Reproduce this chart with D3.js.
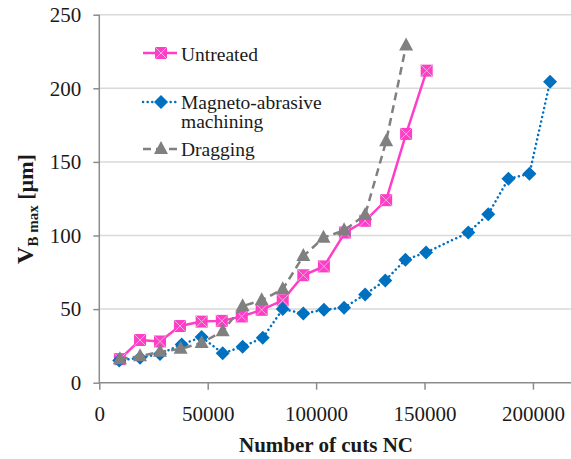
<!DOCTYPE html>
<html>
<head>
<meta charset="utf-8">
<script src="https://cdn.jsdelivr.net/npm/d3@7"></script>
<style>
  body { margin: 0; background: #fff; }
  svg { display: block; }
  text { font-family: "Liberation Serif", "Times New Roman", "DejaVu Serif", serif; fill: #1a1a1a; }
</style>
</head>
<body>
<div id="chart"></div>
<script>
// values
var untreatedX = [9500, 18800, 28000, 37200, 47200, 56500, 65700, 74900, 84600, 94100, 103600, 113300, 122600, 132300, 141500, 151000];
var untreatedY = [16, 29, 28, 38.5, 41.5, 42, 45, 49.5, 56, 73, 79, 102, 110, 124, 169, 212];

var magnetoX = [9200, 18800, 28000, 38000, 47200, 56900, 66100, 75400, 84600, 94100, 103600, 112900, 122600, 131900, 141200, 150700, 170200, 179400, 188700, 198400, 207900];
var magnetoY = [15, 17, 19.5, 26, 31, 20, 24.5, 30.5, 50, 47, 49.5, 51, 60, 69.5, 83.5, 88.5, 102, 114.5, 138.5, 142, 204.5];

var draggingX = [9500, 18800, 28000, 37500, 47200, 56900, 66100, 74900, 84600, 94100, 103400, 112900, 122600, 132300, 141500];
var draggingY = [16, 18, 21, 23, 27, 35, 52, 56, 63.5, 86, 98.5, 103.5, 114, 164, 229];

var xTicks = [0, 50000, 100000, 150000, 200000];
var yTicks = [0, 50, 100, 150, 200, 250];

var width = 571, height = 459;
var pink = '#ff3ec8', blue = '#0070c0', grey = '#808080';

var svg = d3.select('#chart').append('svg')
  .attr('width', width)
  .attr('height', height);

var x = d3.scaleLinear().domain([0, 220000]).range([99.3, 576.3]);
var y = d3.scaleLinear().domain([0, 250]).range([382.7, 14.7]);

// gridlines
svg.append('g')
  .selectAll('line')
  .data(yTicks.slice(1))
  .enter().append('line')
  .attr('x1', x(0)).attr('x2', width)
  .attr('y1', function(d) { return y(d) }).attr('y2', function(d) { return y(d) })
  .attr('stroke', '#d9d9d9').attr('stroke-width', 1.5);

// axes
var yAxis = svg.append('g')
  .attr('transform', 'translate(' + x(0) + ',0)')
  .call(d3.axisLeft(y).tickValues(yTicks).tickSize(6).tickPadding(12).tickFormat(d3.format('d')));
var xAxis = svg.append('g')
  .attr('transform', 'translate(0,' + y(0) + ')')
  .call(d3.axisBottom(x).tickValues(xTicks).tickSize(7).tickPadding(16).tickFormat(d3.format('d')));

[xAxis, yAxis].forEach(function(a) {
  a.attr('font-family', null);
  a.select('.domain').attr('stroke', '#8c8c8c').attr('stroke-width', 1.5);
  a.selectAll('.tick line').attr('stroke', '#8c8c8c').attr('stroke-width', 1.5);
  a.selectAll('.tick text').style('font-size', '21px').attr('fill', '#1a1a1a');
});
yAxis.select('.domain').attr('d', 'M0,' + y(0) + 'V' + y(250));
xAxis.select('.domain').attr('d', 'M' + x(0) + ',0H' + width);

// axis titles
svg.append('text')
  .attr('x', 326).attr('y', 452)
  .attr('text-anchor', 'middle')
  .style('font-size', '21px').style('font-weight', 'bold')
  .text('Number of cuts NC');

var yt = svg.append('text')
  .attr('transform', 'translate(33,209) rotate(-90)')
  .attr('text-anchor', 'middle')
  .style('font-weight', 'bold');
yt.append('tspan').style('font-size', '24px').text('V');
yt.append('tspan').style('font-size', '15px').attr('dy', 5).text('B max');
yt.append('tspan').style('font-size', '22px').attr('dy', -5).text(' [µm]');

function pts(xs, ys) {
  return xs.map(function(d, i) { return [d, ys[i]]; });
}
var line = d3.line().x(function(d) { return x(d[0]) }).y(function(d) { return y(d[1]) });

function square(g, cx, cy) {
  g.append('rect').attr('x', cx - 6).attr('y', cy - 6).attr('width', 12).attr('height', 12).attr('fill', pink);
  g.append('path').attr('d', 'M' + (cx - 6) + ',' + (cy - 6) + 'L' + (cx + 6) + ',' + (cy + 6) + 'M' + (cx + 6) + ',' + (cy - 6) + 'L' + (cx - 6) + ',' + (cy + 6))
    .attr('stroke', '#eab0d8').attr('stroke-width', 1);
}
function diamond(g, cx, cy) {
  g.append('path').attr('d', 'M' + cx + ',' + (cy - 7) + 'L' + (cx + 7) + ',' + cy + 'L' + cx + ',' + (cy + 7) + 'L' + (cx - 7) + ',' + cy + 'Z')
    .attr('fill', blue);
}
function triangle(g, cx, cy) {
  g.append('path').attr('d', 'M' + cx + ',' + (cy - 8) + 'L' + (cx + 7) + ',' + (cy + 5) + 'L' + (cx - 7) + ',' + (cy + 5) + 'Z')
    .attr('fill', grey);
}

var series = [
  { data: pts(untreatedX, untreatedY), color: pink, dash: null, cap: 'butt', marker: square },
  { data: pts(magnetoX, magnetoY), color: blue, dash: '0.1 4.5', cap: 'round', marker: diamond },
  { data: pts(draggingX, draggingY), color: grey, dash: '8 5', cap: 'butt', marker: triangle }
];

series.forEach(function(s) {
  var g = svg.append('g');
  g.append('path')
    .attr('d', line(s.data))
    .attr('fill', 'none')
    .attr('stroke', s.color)
    .attr('stroke-width', 2.5)
    .attr('stroke-linecap', s.cap)
    .attr('stroke-dasharray', s.dash);
  s.data.forEach(function(d) { s.marker(g, x(d[0]), y(d[1])); });
});

// legend
var legend = [
  { label: ['Untreated'], ly: 53, ty: 61, s: series[0] },
  { label: ['Magneto-abrasive', 'machining'], ly: 102, ty: 109, s: series[1] },
  { label: ['Dragging'], ly: 149, ty: 156, s: series[2] }
];
legend.forEach(function(l) {
  var g = svg.append('g');
  g.append('line')
    .attr('x1', 143).attr('x2', 177).attr('y1', l.ly).attr('y2', l.ly)
    .attr('stroke', l.s.color).attr('stroke-width', 2.5)
    .attr('stroke-linecap', l.s.cap)
    .attr('stroke-dasharray', l.s.dash);
  l.s.marker(g, 161, l.ly);
  var t = g.append('text').attr('x', 181).attr('y', l.ty).style('font-size', '19.5px');
  l.label.forEach(function(s, i) {
    t.append('tspan').attr('x', 181).attr('dy', i ? 19 : 0).text(s);
  });
});
</script>
</body>
</html>
